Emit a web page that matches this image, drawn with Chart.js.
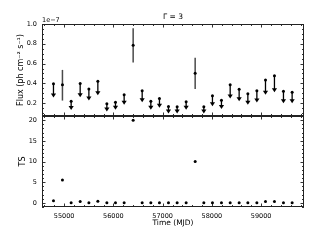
<!DOCTYPE html>
<html>
<head>
<meta charset="utf-8">
<script src="https://cdn.jsdelivr.net/npm/chart.js@4.4.0/dist/chart.umd.min.js"></script>
<style>
html, body { margin: 0; padding: 0; background: #fff; }
#wrap { position: relative; width: 320px; height: 240px; overflow: hidden; }
canvas { position: absolute; left: 0; }
#fluxChart { top: 0; }
#tsChart { top: 116px; }
</style>
</head>
<body>
<div id="wrap">
  <canvas id="fluxChart" width="320" height="117"></canvas>
  <canvas id="tsChart" width="320" height="124"></canvas>
</div>
<script>
// data (flux in units of 1e-7 ph cm^-2 s^-1)
const mjd = [54783, 54965, 55142, 55325, 55502, 55684, 55867, 56042, 56218, 56401,
             56584, 56760, 56935, 57118, 57294, 57477, 57660, 57836, 58011, 58194,
             58371, 58553, 58730, 58913, 59088, 59270, 59453, 59629];
const flux = [0.395, 0.385, 0.22, 0.398, 0.344, 0.422, 0.193, 0.21, 0.284, 0.785,
              0.324, 0.22, 0.246, 0.166, 0.163, 0.213, 0.502, 0.163, 0.274, 0.23,
              0.385, 0.341, 0.294, 0.324, 0.435, 0.478, 0.32, 0.31];
// upper limit flag (1 = upper limit arrow, 0 = detection with error bar)
const isUL = [1, 0, 1, 1, 1, 1, 1, 1, 1, 0,
              1, 1, 1, 1, 1, 1, 0, 1, 1, 1,
              1, 1, 1, 1, 1, 1, 1, 1];
// lower end: arrow tip for upper limits, error bar bottom for detections
const fluxLow = [0.256, 0.226, 0.13, 0.26, 0.226, 0.28, 0.115, 0.132, 0.183, 0.61,
                 0.21, 0.133, 0.153, 0.095, 0.095, 0.133, 0.344, 0.095, 0.168, 0.14,
                 0.246, 0.22, 0.183, 0.206, 0.284, 0.31, 0.2, 0.2];
// upper end of error bars (detections only)
const fluxHigh = [null, 0.536, null, null, null, null, null, null, null, 0.956,
                  null, null, null, null, null, null, 0.66, null, null, null,
                  null, null, null, null, null, null, null, null];
const ts = [0.5, 5.5, 0, 0.3, 0, 0.4, 0, 0, 0, 20,
            0, 0, 0, 0, 0, 0, 10, 0, 0, 0,
            0, 0, 0, 0, 0.3, 0.3, 0, 0];

const xTicks = [55000, 56000, 57000, 58000, 59000];
const fluxTicks = [0.2, 0.4, 0.6, 0.8, 1.0];
const tsTicks = [0, 5, 10, 15, 20];

Chart.defaults.font.family = 'DejaVu Sans';
Chart.defaults.font.size = 6.5;
Chart.defaults.color = '#000';

const X_MIN = 54550, X_MAX = 59870;

// no extra padding from edge labels, keep both panels aligned
function noPad(s) {
  s.paddingTop = 0; s.paddingBottom = 0; s.paddingLeft = 0; s.paddingRight = 0;
}

// frame + inward ticks like matplotlib
function frameTicks(xMajor, xMinorStep, yMajor, yMinorStep) {
  return {
    id: 'frameTicks',
    afterDraw(chart) {
      const ctx = chart.ctx;
      const a = chart.chartArea;
      const xs = chart.scales.x, ys = chart.scales.y;
      ctx.save();
      ctx.strokeStyle = '#000';
      ctx.lineWidth = 0.8;
      ctx.beginPath();
      let v = Math.ceil(xs.min / xMinorStep) * xMinorStep;
      for (; v <= xs.max; v += xMinorStep) {
        const px = Math.round(xs.getPixelForValue(v)) + 0.5;
        const len = xMajor.includes(v) ? 3.5 : 2;
        ctx.moveTo(px, a.bottom); ctx.lineTo(px, a.bottom - len);
        ctx.moveTo(px, a.top); ctx.lineTo(px, a.top + len);
      }
      v = Math.ceil(ys.min / yMinorStep - 1e-9) * yMinorStep;
      for (; v <= ys.max + 1e-9; v += yMinorStep) {
        const py = Math.round(ys.getPixelForValue(v)) + 0.5;
        const major = yMajor.some(t => Math.abs(t - v) < 1e-6);
        const len = major ? 3.5 : 2;
        ctx.moveTo(a.left, py); ctx.lineTo(a.left + len, py);
        ctx.moveTo(a.right, py); ctx.lineTo(a.right - len, py);
      }
      ctx.stroke();
      ctx.lineWidth = 1;
      ctx.strokeStyle = '#222';
      ctx.strokeRect(a.left + 0.5, a.top + 0.5, a.right - a.left - 1, a.bottom - a.top - 1);
      ctx.restore();
    }
  };
}

const fluxMarks = {
  id: 'fluxMarks',
  beforeDatasetsDraw(chart) {
    const ctx = chart.ctx;
    const xs = chart.scales.x, ys = chart.scales.y;
    ctx.save();
    for (let i = 0; i < mjd.length; i++) {
      const px = xs.getPixelForValue(mjd[i]);
      if (isUL[i]) {
        const top = ys.getPixelForValue(flux[i]);
        const tip = ys.getPixelForValue(fluxLow[i]);
        ctx.strokeStyle = '#000';
        ctx.lineWidth = 1.3;
        ctx.beginPath();
        ctx.moveTo(px, top); ctx.lineTo(px, tip - 3);
        ctx.stroke();
        ctx.fillStyle = '#000';
        ctx.beginPath();
        ctx.moveTo(px - 2.6, tip - 4);
        ctx.lineTo(px + 2.6, tip - 4);
        ctx.lineTo(px, tip);
        ctx.closePath();
        ctx.fill();
      } else {
        ctx.strokeStyle = '#4a4a4a';
        ctx.lineWidth = 1.5;
        ctx.beginPath();
        ctx.moveTo(px, ys.getPixelForValue(fluxHigh[i]));
        ctx.lineTo(px, ys.getPixelForValue(fluxLow[i]));
        ctx.stroke();
      }
    }
    ctx.restore();
  },
  afterDraw(chart) {
    const ctx = chart.ctx;
    const a = chart.chartArea;
    ctx.save();
    ctx.fillStyle = '#000';
    ctx.textBaseline = 'alphabetic';
    ctx.font = '6.5px "DejaVu Sans"';
    ctx.textAlign = 'left';
    ctx.fillText('1e\u22127', a.left, a.top - 2);
    ctx.font = '7.5px "DejaVu Sans"';
    ctx.textAlign = 'center';
    ctx.fillText('\u0393 = 3', (a.left + a.right) / 2, a.top - 5);
    ctx.restore();
  }
};

new Chart(document.getElementById('fluxChart'), {
  type: 'scatter',
  data: {
    datasets: [{
      data: mjd.map((m, i) => ({ x: m, y: flux[i] })),
      pointRadius: 1.5,
      pointBackgroundColor: '#000',
      pointBorderWidth: 0
    }]
  },
  options: {
    responsive: false,
    animation: false,
    devicePixelRatio: 1,
    layout: { autoPadding: false, padding: { left: 0, right: 16, top: 24, bottom: 1 } },
    plugins: { legend: { display: false }, tooltip: { enabled: false } },
    scales: {
      x: { type: 'linear', min: X_MIN, max: X_MAX, display: false },
      y: {
        type: 'linear', min: 0.07, max: 1.0,
        grid: { display: false, drawTicks: false },
        border: { display: false },
        afterBuildTicks(s) { s.ticks = fluxTicks.map(v => ({ value: v })); },
        afterFit(s) { s.width = 42; noPad(s); },
        ticks: { padding: 5, callback: v => v.toFixed(1) },
        title: {
          display: true, text: 'Flux (ph cm\u207B\u00B2 s\u207B\u00B9)',
          font: { size: 8 }, padding: { top: 16, bottom: 0 }
        }
      }
    }
  },
  plugins: [fluxMarks, frameTicks(xTicks, 200, fluxTicks, 0.05)]
});

new Chart(document.getElementById('tsChart'), {
  type: 'scatter',
  data: {
    datasets: [{
      data: mjd.map((m, i) => ({ x: m, y: ts[i] })),
      pointRadius: 1.5,
      pointBackgroundColor: '#000',
      pointBorderWidth: 0
    }]
  },
  options: {
    responsive: false,
    animation: false,
    devicePixelRatio: 1,
    layout: { autoPadding: false, padding: { left: 0, right: 16, top: 0, bottom: 0 } },
    plugins: { legend: { display: false }, tooltip: { enabled: false } },
    scales: {
      x: {
        type: 'linear', min: X_MIN, max: X_MAX,
        grid: { display: false, drawTicks: false },
        border: { display: false },
        afterBuildTicks(s) { s.ticks = xTicks.map(v => ({ value: v })); },
        afterFit(s) { s.height = 33; noPad(s); },
        ticks: { padding: 5, maxRotation: 0, callback: v => String(v) },
        title: {
          display: true, text: 'Time (MJD)',
          font: { size: 7.5 }, padding: { top: 0, bottom: 12 }
        }
      },
      y: {
        type: 'linear', min: -1, max: 21,
        grid: { display: false, drawTicks: false },
        border: { display: false },
        afterBuildTicks(s) { s.ticks = tsTicks.map(v => ({ value: v })); },
        afterFit(s) { s.width = 42; noPad(s); },
        ticks: { padding: 5, callback: v => String(v) },
        title: {
          display: true, text: 'TS',
          font: { size: 8 }, padding: { top: 18, bottom: 0 }
        }
      }
    }
  },
  plugins: [frameTicks(xTicks, 200, tsTicks, 1)]
});
</script>
</body>
</html>
